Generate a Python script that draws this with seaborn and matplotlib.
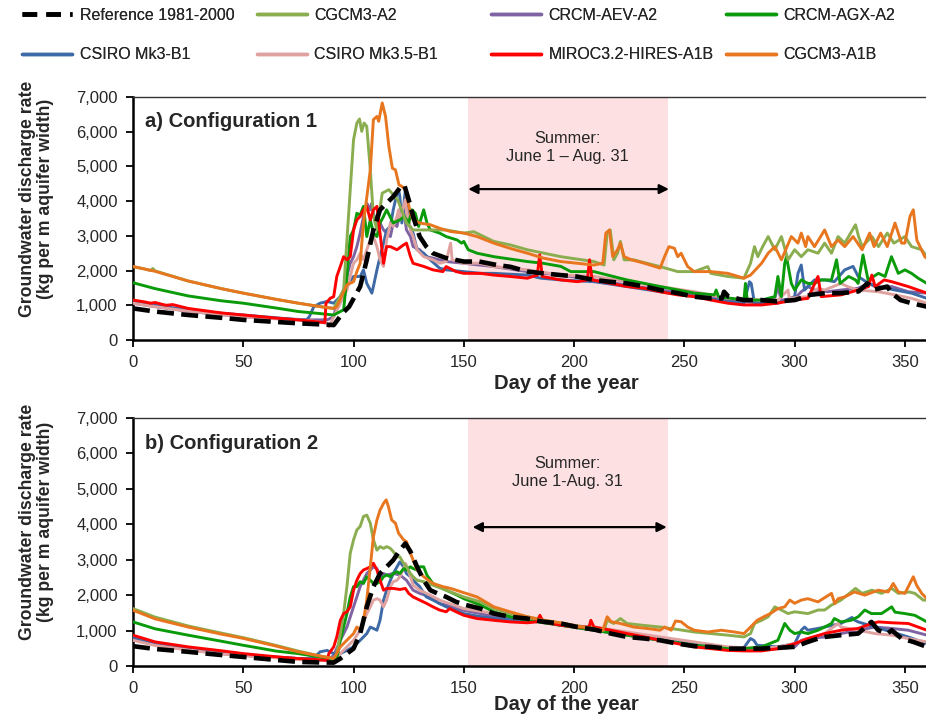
import matplotlib
matplotlib.use("Agg")
import matplotlib.pyplot as plt
from matplotlib.lines import Line2D
from matplotlib.ticker import FuncFormatter
import seaborn as sns
import pandas as pd

# ---------------- data (day of year, discharge kg per m aquifer width) ----------------
SERIES_NAMES = ["Reference 1981-2000", "CGCM3-A2", "CRCM-AEV-A2", "CRCM-AGX-A2",
                "CSIRO Mk3-B1", "CSIRO Mk3.5-B1", "MIROC3.2-HIRES-A1B", "CGCM3-A1B"]

# Panel a) Configuration 1
REF_A = [(0,910),(10,820),(25,720),(40,640),(50,580),(65,520),(75,480),(85,450),(91,430),(95,770),
         (98,960),(103,1540),(106,2310),(109,3170),(112,3750),(115,3940),(118,4130),(121,4380),(123,4470),(125,4040),
         (127,3560),(130,2980),(133,2690),(136,2500),(142,2360),(150,2260),(157,2260),(165,2160),(171,2110),(179,1970),
         (186,1920),(194,1870),(201,1830),(209,1730),(216,1680),(224,1630),(232,1540),(239,1440),(247,1350),(254,1250),
         (262,1200),(267,1200),(268,1390),(270,1250),(277,1150),(285,1150),(292,1110),(300,1150),(305,1250),(307,1300),
         (314,1350),(321,1350),(329,1400),(333,1630),(336,1450),(342,1540),(344,1350),(348,1150),(353,1060),(360,960)]
A2_A = [(0,2115),(5,2050),(8,2000),(9,2060),(10,1990),(25,1700),(40,1480),(50,1350),(65,1170),(75,1060),(85,960),
        (91,910),(95.5,1440),(97,2880),(98.5,4330),(100,5770),(101.5,6250),(102.7,6365),(103.7,6010),(104.8,6250),
        (106,6150),(107.6,4900),(109,3560),(110.6,3170),(113,4230),(116,4330),(120,4040),(124,3370),(127,3170),
        (135,3170),(142,3170),(150,3080),(154.5,3120),(163.6,2840),(171,2740),(178.8,2600),(194,2400),(209,2260),
        (213.6,2160),(215,3080),(216.4,3170),(218,2310),(219.7,2500),(221,2840),(222.7,2310),(227,2310),(233,2210),
        (239,2115),(247,1970),(254.5,1970),(260.6,2115),(262,1920),(269.7,1830),(277,1780),(280,2210),(281.8,2690),
        (283.3,2400),(285.5,2690),(288,2980),(291,2600),(294,2980),(297,2310),(300,2600),(303,2400),(306,2600),
        (310.6,2500),(313.6,2790),(316.7,2500),(319.7,2980),(322.7,2790),(327.6,3320),(329,2980),(330.6,2690),
        (335,2980),(338,2690),(342,3080),(345,2790),(350,2980),(353,2690),(357.6,2600),(360,2400)]
AEV_A = [(0,1060),(10,960),(25,830),(40,730),(50,670),(65,620),(80,580),(88,580),(91,670),(92.4,1060),(95.5,1440),
         (97,1830),(98.5,2210),(100,2400),(101.5,2690),(103,3080),(104.5,3560),(106,3940),(106.8,3850),(107.6,3750),
         (108.3,3940),(109,3650),(110.6,3370),(112,3370),(113.6,3170),(115,3080),(116.7,2980),(118,3370),(119.7,3270),
         (121,3650),(122.7,3750),(124,3170),(125.8,2980),(127,2690),(130,2600),(133,2400),(136,2360),(142,2260),
         (150,2210),(157,2160),(163.6,2115),(178.8,1970),(194,1870),(209,1730),(224,1580),(239,1440),(254.5,1300),
         (269.7,1150),(285,1060),(291,1200),(292.4,1540),(293.9,1150),(300,1200),(303,1390),(306,1540),(309,1440),
         (315,1390),(321,1440),(328.8,1490),(333.5,1630),(338,1490),(344,1540),(351.5,1390),(360,1350)]
AGX_A = [(0,1650),(10,1480),(25,1270),(40,1130),(50,1060),(65,920),(75,820),(85,760),(91,720),(95.5,870),(97,1830),
         (98.5,2980),(100,3170),(101.5,3650),(103,3600),(104.5,3850),(106,2980),(107.6,3460),(109,3080),(110.6,2980),
         (112,3370),(113.6,3560),(115,3750),(118,3370),(121,3460),(123,3560),(125,3370),(126.5,3750),(128,3650),
         (129.5,3270),(131.8,3750),(133.3,3370),(134.8,3170),(139,3080),(142,2980),(147,2880),(149,2790),(150,2840),
         (152,2600),(156,2500),(163.6,2400),(178.8,2260),(186,2210),(194,2120),(198.5,1970),(209,1970),(224,1730),
         (239,1540),(254.5,1350),(263.6,1300),(264.4,1440),(265.5,1250),(277,1150),(277.7,1630),(278.5,1150),
         (285,1150),(291,1250),(292.4,1830),(294,1250),(295.5,2210),(296.3,2400),(298.5,1630),(300,1440),(303,1730),
         (306,1630),(309,1630),(312,1730),(316.7,1730),(319,2310),(320.6,1630),(324.5,1830),(327.6,1730),(328.8,1630),
         (331,2450),(333.3,1730),(338,1920),(341,1830),(343.9,2400),(347,1920),(350,2020),(353,1920),(356,1780),
         (360,1630)]
MK3_A = [(0,1125),(10,1000),(25,870),(40,770),(50,720),(65,640),(75,580),(78.8,580),(80,680),(82,960),(84.8,1060),
         (88,1110),(91,1060),(94,1250),(97,1540),(100,1830),(103,1830),(104.5,2020),(106,1630),(107.6,1440),
         (108.3,1350),(109,1540),(110.6,2020),(112,2400),(113.6,2790),(115,3170),(116.7,3270),(118,3750),(119.7,4230),
         (120.4,4330),(121,4130),(121.9,3370),(123.5,4330),(125,3370),(127,3080),(128.8,2600),(131.8,2500),
         (134.8,2310),(139,2070),(142,2020),(150,1970),(157.6,1920),(163.6,1920),(178.8,1870),(185,1780),(194,1730),
         (209,1680),(224,1540),(239,1390),(254.5,1250),(269.7,1110),(277,1060),(279.5,1680),(280.3,1630),(281.8,1060),
         (292.4,1060),(300,1250),(301.5,1920),(303,2160),(304.5,1440),(306,1540),(309,1730),(313.6,1730),(318,1680),
         (322.7,2020),(326.5,2120),(328.8,1830),(333.5,1630),(338,1540),(345.5,1440),(353,1350),(360,1200)]
MK35_A = [(0,1060),(10,960),(25,830),(40,730),(50,670),(65,610),(80,560),(88,480),(88.8,380),(91,670),(94,1060),
          (97,1440),(98.5,1830),(100,2210),(101.5,2310),(103,2500),(104.5,2310),(106,2600),(107.6,2880),(109,2980),
          (110.6,2690),(112,2310),(113.6,2120),(115,2880),(116.7,3370),(118,3270),(119.7,3560),(120.4,3750),
          (121,3460),(122.7,3850),(123.5,4040),(124,3750),(125.8,3170),(127,2980),(128.8,2600),(131.8,2400),
          (136,2310),(139,2210),(142,2260),(144,2790),(144.7,2310),(150,2210),(157,2210),(163.6,2115),(178.8,2020),
          (194,1870),(209,1830),(224,1680),(239,1540),(254.5,1390),(269.7,1200),(285,1150),(292.4,1150),(297,1440),
          (297.6,1200),(306,1250),(310.6,1490),(313.6,1440),(321,1630),(324,1540),(328.8,1440),(338,1390),
          (345.5,1300),(353,1200),(360,1060)]
MIROC_A = [(0,1150),(5,1100),(8,1060),(10,1080),(15,1000),(18,1020),(25,910),(40,780),(50,720),(65,630),(75,580),
           (87,500),(87.5,1060),(89.4,1200),(91,1250),(92.4,1830),(94,2120),(95.5,2400),(97,2310),(98.5,2400),
           (100,3170),(101.5,3460),(103,3560),(104.5,3750),(106,3850),(107.6,3460),(109,3750),(110.6,3850),(112,3080),
           (113.6,2210),(115,2690),(116.7,2690),(119.7,2600),(122.7,2740),(124,2790),(125.8,2400),(127,2210),
           (131.8,2120),(136,2020),(140.5,1970),(142,2115),(146.5,1970),(150,1920),(157.6,1920),(163.6,1870),
           (171,1830),(178.8,1780),(183.3,1870),(184.4,2450),(185.6,1830),(194,1730),(201.5,1680),(206,1730),
           (207,2310),(208.2,1730),(216.7,1630),(224,1540),(232,1490),(239,1390),(247,1300),(254.5,1250),(262,1150),
           (269.7,1060),(277,1010),(285,1010),(292,1060),(300,1150),(306,1200),(310.6,1830),(312,1250),(321,1300),
           (328.8,1440),(333.5,1540),(335,1870),(336.5,1540),(340.6,1730),(344,1680),(351.5,1540),(360,1350)]
A1B_A = [(0,2115),(10,1980),(25,1700),(40,1480),(50,1350),(65,1170),(75,1060),(85,960),(91,910),(92.4,960),
         (97,1590),(100,1680),(101.5,1970),(103,2210),(104.5,3370),(107.6,4900),(109,6350),(110.6,6440),(111.4,6300),
         (113,6830),(114.5,6440),(116,5580),(117.6,4950),(119,4900),(120.6,4470),(122,4420),(123.5,4330),(125.8,3650),
         (127,3460),(130,3370),(134.8,3320),(139,3220),(144,3125),(150,3080),(156,2980),(163.6,2790),(171,2640),
         (178.8,2500),(186,2360),(194,2260),(201.5,2210),(209,2160),(213,2210),(214.4,3080),(216,3170),(217.5,2400),
         (219.7,2600),(221,2790),(222.7,2400),(226,2310),(232,2210),(239,2070),(241,2400),(243,2690),(245.5,2640),
         (247,2400),(248.5,2500),(251.5,2115),(254.5,1970),(262,1970),(269.7,1920),(277,1780),(280,1870),(285,2210),
         (288,2500),(291,2690),(294,2310),(298.5,2980),(301.5,2790),(303,3080),(305,2690),(306,2980),(309,2690),
         (313.6,3170),(316.7,2690),(319.7,2880),(322.7,2690),(326.5,2980),(330.6,2600),(334,3080),(336,2690),
         (339,3080),(342,2690),(345.5,3370),(348.5,2790),(350,2790),(352.3,3560),(353.8,3750),(355.4,2880),
         (357.5,2600),(359,2400),(360,2350)]

# Panel b) Configuration 2
REF_B = [(0,560),(10,480),(25,400),(40,310),(50,255),(65,170),(75,115),(85,100),(91,95),(94,210),(97,350),(100,490),
         (103,915),(106,1670),(109,2240),(112,2610),(115,2800),(118,2990),(121,3270),(123.5,3460),(125.8,3230),
         (128.8,2800),(131.8,2420),(134.8,2140),(138,2050),(142,1950),(146.5,1810),(151,1720),(157.6,1620),
         (163.6,1480),(171,1390),(178.8,1340),(186,1250),(194,1200),(201.5,1100),(209,1030),(216.7,915),(224,820),
         (232,775),(239,725),(247,630),(254.5,560),(262,540),(269.7,490),(285,490),(300,540),(306,680),(310.6,775),
         (313.6,820),(321,870),(328.8,915),(334.8,1245),(337.9,1010),(342,915),(344,1010),(348.5,775),(353.8,680),
         (360,540)]
A2_B = [(0,1620),(10,1380),(25,1130),(40,930),(50,800),(65,580),(75,420),(85,280),(91,210),(92.4,350),(94,915),
        (95.5,1480),(97,2240),(98.5,3180),(100,3560),(101.5,3840),(103,3940),(104.5,4220),(106,4260),(107.6,4030),
        (109,3560),(110.6,3270),(112,3370),(113.6,3320),(115,3370),(116.7,3320),(118,3230),(119.7,3080),(121,3080),
        (122.7,2900),(124,2800),(125.8,2610),(127,2520),(128.8,2420),(131.8,2380),(136,2280),(142,2140),(150,1950),
        (157.6,1810),(163.6,1620),(171,1480),(178.8,1390),(194,1200),(209,1060),(213.6,1010),(215,1290),(218,1200),
        (221,1340),(224,1200),(231,1150),(239,1100),(247,1030),(254.5,960),(262,915),(269.7,870),(277,820),(280,915),
        (281.8,1200),(285,1290),(288,1390),(291,1670),(294,1580),(297,1480),(300,1530),(306,1480),(310.6,1580),
        (313.6,1580),(316.7,1720),(321,1860),(327.6,2190),(330.6,2050),(335,2140),(339.4,2050),(344,2190),(347,2050),
        (352,2090),(354.5,2050),(358.3,1860),(360,1860)]
AEV_B = [(0,775),(10,620),(25,470),(40,350),(50,300),(65,250),(75,210),(88,160),(91,300),(94,725),(97,1100),
         (100,1670),(103,2240),(106,2610),(107.6,2710),(109,2800),(110.6,2750),(112,2520),(113.6,2610),(115,2570),
         (118,2610),(121,2570),(124,2420),(127,2140),(130,2050),(134.8,1950),(139,1760),(142,1720),(150,1570),
         (157.6,1480),(163.6,1390),(178.8,1290),(194,1150),(209,1010),(224,870),(239,725),(254.5,585),(269.7,490),
         (285,460),(294,490),(300,540),(303,725),(306,775),(313.6,820),(321,915),(328.8,1010),(336.4,1100),(344,1060),
         (351.5,1010),(360,870)]
AGX_B = [(0,1245),(10,1050),(25,870),(40,700),(50,585),(65,420),(75,350),(85,250),(91,160),(92.4,210),(94,730),
         (95.5,1100),(97,1480),(98.5,1950),(100,2240),(101.5,2240),(103,2380),(104.5,2330),(106,2520),(107.6,2420),
         (109,2330),(110.6,2330),(112,2380),(113.6,2520),(115,2570),(116.7,2520),(118,2610),(119.7,2660),(121,2610),
         (122.7,2750),(124,2710),(125.8,2800),(127,2750),(128.8,2710),(130,2800),(131.8,2800),(133.3,2560),(136,2330),
         (139,2240),(142,2140),(147,2000),(150,1900),(157.6,1720),(163.6,1530),(171,1390),(178.8,1290),(194,1150),
         (209,1010),(224,870),(239,725),(254.5,585),(269.7,490),(277,490),(285,540),(292.4,725),(295.5,1200),
         (297.8,1010),(300,915),(303,960),(306,915),(310.6,1010),(313.6,1100),(316.7,1200),(318,1340),(321,1245),
         (325.6,1290),(328.8,1390),(331.8,1580),(334.8,1480),(339.4,1480),(344,1670),(345.5,1520),(350,1480),
         (354.5,1430),(360,1245)]
MK3_B = [(0,820),(10,650),(25,490),(40,360),(50,300),(65,250),(75,210),(81.8,210),(84.8,400),(88,440),(91,350),
         (94,350),(97,440),(100,540),(103,725),(106,915),(107.6,1100),(109,1060),(110.6,1010),(112,1290),(113.6,1860),
         (115,2140),(116.7,2420),(118,2610),(119.7,2800),(121,2940),(122.7,2800),(124,2610),(125.8,2520),(127,2420),
         (130,2240),(133,1950),(136,1860),(142,1670),(150,1480),(156,1410),(163.6,1340),(178.8,1290),(186,1245),
         (194,1150),(209,1060),(224,915),(239,775),(254.5,630),(269.7,520),(277,520),(280,775),(281.5,725),(283,585),
         (292.4,540),(300,630),(303,1010),(304.5,1100),(306,1010),(310.6,1060),(313.6,1100),(321,1200),(326,1370),
         (327.3,1290),(328.8,1245),(336.4,1100),(344,960),(351.5,820),(360,630)]
MK35_B = [(0,725),(10,580),(25,450),(40,340),(50,290),(65,230),(75,180),(89.4,160),(92.4,255),(94,350),(97,540),
          (100,725),(103,1010),(106,1480),(107.6,1670),(109,1860),(110.6,1900),(112,1860),(113.6,1670),(115,1860),
          (116.7,2240),(118,2380),(119.7,2420),(121,2520),(122.7,2750),(123.5,2900),(124.3,2800),(125.8,2520),
          (127,2280),(130,2140),(134.8,2000),(139,1860),(143.6,1760),(150,1620),(163.6,1480),(178.8,1340),(194,1200),
          (206,1100),(207.6,1200),(209,1100),(224,960),(239,820),(254.5,680),(269.7,540),(285,490),(292.4,540),
          (300,630),(306,775),(313.6,915),(319.7,1200),(321,1100),(328.8,1010),(336.4,915),(344,870),(351.5,775),
          (360,680)]
MIROC_B = [(0,870),(10,680),(25,540),(40,430),(50,350),(65,260),(75,210),(88,160),(88.8,350),(91,540),(92.4,820),
           (94,1290),(95.5,1480),(97,1530),(98.5,1670),(100,2140),(101.5,2420),(103,2610),(104.5,2710),(106,2750),
           (107.6,2800),(109,2900),(110.6,2710),(112,2420),(113.6,2140),(115,2190),(118,2190),(121,2160),(123.5,2190),
           (125,2050),(127,1950),(130,1860),(133,1770),(136,1670),(139,1580),(142,1530),(143.6,1620),(146.5,1530),
           (150,1430),(156,1340),(163.6,1290),(171,1245),(178.8,1220),(183,1245),(184.5,1430),(186,1245),(194,1150),
           (201.5,1100),(206.8,1100),(207.6,1290),(209,1100),(216.7,1010),(224,915),(232,820),(239,725),(247,630),
           (254.5,540),(262,490),(269.7,440),(277,425),(285,425),(292.4,490),(300,630),(306,775),(313.6,915),
           (321,1010),(328.8,1060),(335,1200),(338,1245),(344,1220),(351.5,1200),(360,1010)]
A1B_B = [(0,1575),(10,1330),(25,1100),(40,900),(50,780),(65,560),(75,400),(85,280),(91,210),(94,540),(97,730),
         (100,915),(101.5,1100),(103,1010),(104.5,1290),(106,1860),(107.6,2800),(109,3650),(110.6,4120),(112,4400),
         (113.6,4590),(114.8,4690),(115.8,4500),(117.3,4120),(119,4030),(120.4,3750),(122.7,3560),(124,3510),
         (125.8,3180),(128.8,2710),(131.8,2520),(136,2330),(140.5,2240),(144,2190),(148.5,2100),(156,1950),
         (163.6,1670),(171,1530),(178.8,1390),(186,1290),(194,1220),(201.5,1120),(209,1060),(213,1010),(215,1390),
         (216.8,1250),(221,1200),(227,1100),(233,1060),(239,1010),(241,1100),(244,1010),(246,1270),(248.5,1250),
         (251.5,1100),(254.5,1010),(260.6,960),(266.7,1010),(272.7,960),(277,915),(280,1100),(283,1290),(286,1390),
         (289,1480),(292.4,1620),(295.5,1670),(297.8,1860),(300,1770),(303,1860),(306,1900),(310.6,1810),(316.7,2050),
         (318.2,1760),(319.7,1900),(322.7,1950),(327.1,2090),(331.8,2000),(337.9,2140),(342.4,2090),(344.7,2330),
         (347,2090),(350,2050),(353.8,2520),(355.3,2280),(357.6,2050),(360,1900)]

X_TICKS = [0, 50, 100, 150, 200, 250, 300, 350]
Y_TICKS = [0, 1000, 2000, 3000, 4000, 5000, 6000, 7000]
SUMMER_START, SUMMER_END = 152, 242.5

PANEL_A = {"Reference 1981-2000": REF_A, "CGCM3-A2": A2_A, "CRCM-AEV-A2": AEV_A, "CRCM-AGX-A2": AGX_A,
           "CSIRO Mk3-B1": MK3_A, "CSIRO Mk3.5-B1": MK35_A, "MIROC3.2-HIRES-A1B": MIROC_A, "CGCM3-A1B": A1B_A}
PANEL_B = {"Reference 1981-2000": REF_B, "CGCM3-A2": A2_B, "CRCM-AEV-A2": AEV_B, "CRCM-AGX-A2": AGX_B,
           "CSIRO Mk3-B1": MK3_B, "CSIRO Mk3.5-B1": MK35_B, "MIROC3.2-HIRES-A1B": MIROC_B, "CGCM3-A1B": A1B_B}

# ---------------- styling ----------------
COLORS = {"Reference 1981-2000": "black", "CGCM3-A2": "#8aae4f", "CRCM-AEV-A2": "#7f63a3",
          "CRCM-AGX-A2": "#0a9b0a", "CSIRO Mk3-B1": "#3d6aa6", "CSIRO Mk3.5-B1": "#e0a2a0",
          "MIROC3.2-HIRES-A1B": "#ff0000", "CGCM3-A1B": "#e8761f"}
DRAW_ORDER = ["CRCM-AEV-A2", "CSIRO Mk3-B1", "CSIRO Mk3.5-B1", "CRCM-AGX-A2", "CGCM3-A2",
              "MIROC3.2-HIRES-A1B", "CGCM3-A1B", "Reference 1981-2000"]
LW = 2.1
REF_LW = 3.3
REF_DASH = (3.2, 2.0)

sns.set_style("ticks")
plt.rcParams["font.family"] = ["Liberation Sans", "DejaVu Sans"]

fig = plt.figure(figsize=(9.26, 7.16), dpi=100)
W, H = 926, 716
ax_a = fig.add_axes([133 / W, 1 - 340 / H, 805 / W, 243 / H])
ax_b = fig.add_axes([133 / W, 1 - 666 / H, 805 / W, 248 / H])


def draw_panel(ax, panel, title, summer_text, txt_y, arrow_y, arrow_x0, arrow_x1, ylab_y, xlab_y):
    ax.axvspan(SUMMER_START, SUMMER_END, color="#fde0e1", lw=0, zorder=0)
    for name in DRAW_ORDER:
        df = pd.DataFrame(panel[name], columns=["day", "value"])
        if name == "Reference 1981-2000":
            sns.lineplot(data=df, x="day", y="value", ax=ax, color=COLORS[name], lw=REF_LW,
                         linestyle="--", dashes=REF_DASH, estimator=None, sort=False, zorder=5)
        else:
            sns.lineplot(data=df, x="day", y="value", ax=ax, color=COLORS[name], lw=LW,
                         estimator=None, sort=False, zorder=3)
    ax.set_xlim(0, 365)
    ax.set_ylim(0, 7000)
    ax.set_xticks(X_TICKS)
    ax.set_yticks(Y_TICKS)
    ax.yaxis.set_major_formatter(FuncFormatter(lambda v, p: f"{v:,.0f}"))
    ax.tick_params(axis="both", direction="out", length=5, width=1.3, labelsize=12, pad=6, color="black")
    for s in ["left", "bottom"]:
        ax.spines[s].set_linewidth(1.8)
        ax.spines[s].set_color("black")
    ax.spines["top"].set_linewidth(1.0)
    ax.spines["top"].set_color("#333333")
    ax.spines["right"].set_visible(False)
    ax.set_xlabel("Day of the year", fontsize=14.5, fontweight="bold", va="center")
    ax.xaxis.set_label_coords(0.538, xlab_y)
    ax.set_ylabel("Groundwater discharge rate\n(kg per m aquifer width)", fontsize=12.7,
                  fontweight="bold", va="center", ha="center", linespacing=1.1)
    ax.yaxis.set_label_coords(-0.12, ylab_y)
    ax.text(0.015, 0.898, title, transform=ax.transAxes, fontsize=14.5, fontweight="bold",
            ha="left", va="center")
    ax.text(197, txt_y, summer_text, transform=ax.get_xaxis_transform(), fontsize=11.8,
            ha="center", va="center", linespacing=1.25)
    ax.annotate("", xy=(arrow_x1, arrow_y), xytext=(arrow_x0, arrow_y),
                xycoords=ax.get_xaxis_transform(), textcoords=ax.get_xaxis_transform(),
                arrowprops=dict(arrowstyle="<|-|>", color="black", lw=1.6, mutation_scale=14,
                                shrinkA=0, shrinkB=0))


draw_panel(ax_a, PANEL_A, "a) Configuration 1", "Summer:\nJune 1 \u2013 Aug. 31",
           0.792, 0.621, 152, 243, 0.58, -0.177)
draw_panel(ax_b, PANEL_B, "b) Configuration 2", "Summer:\nJune 1-Aug. 31",
           0.780, 0.560, 154, 242, 0.58, -0.157)

# ---------------- legend: 4 columns x 2 rows ----------------
LEGEND_COLS = [["Reference 1981-2000", "CSIRO Mk3-B1"], ["CGCM3-A2", "CSIRO Mk3.5-B1"],
               ["CRCM-AEV-A2", "MIROC3.2-HIRES-A1B"], ["CRCM-AGX-A2", "CGCM3-A1B"]]
COL_X = [22, 257, 491, 726]


def handle(name):
    if name == "Reference 1981-2000":
        return Line2D([], [], color="black", lw=REF_LW, linestyle="--", dashes=REF_DASH, label=name)
    return Line2D([], [], color=COLORS[name], lw=LW + 0.4, label=name)


for names, x in zip(LEGEND_COLS, COL_X):
    leg = fig.legend(handles=[handle(n) for n in names], loc="center left",
                     bbox_to_anchor=(x / W, 1 - 35.0 / H), frameon=False, fontsize=11.5,
                     handlelength=3.1, handletextpad=0.5, labelspacing=1.55,
                     borderpad=0, borderaxespad=0)
    fig.add_artist(leg)

fig.savefig("out.png", dpi=100)
